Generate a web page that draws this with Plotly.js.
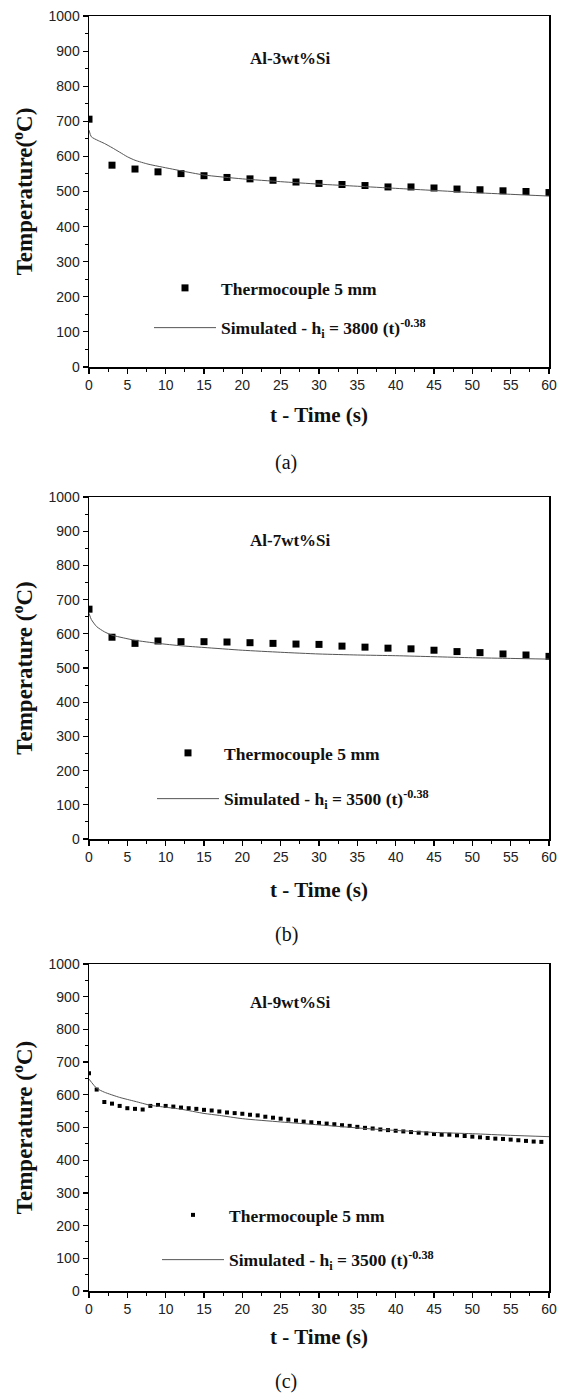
<!DOCTYPE html>
<html><head><meta charset="utf-8">
<script src="https://cdn.plot.ly/plotly-3.0.1.min.js"></script>
<style>html,body{margin:0;padding:0;background:#fff}</style>
</head><body><div id="chart" style="width:572px;height:1396px"></div>
<script>
// ---- Data ----
const timeExpAB = [0,3,6,9,12,15,18,21,24,27,30,33,36,39,42,45,48,51,54,57,60];
const tempExpA = [706,575,564,556,551,545,540,536,532,527,523,520,517,513,513,510,507,505,502,500,497];
const timeSimA = [0,0.3,1.2,2,3,4,5,6,7.7,9,12,15,20,25,30,35,40,45,50,55,60];
const tempSimA = [675,656,645,637,625,612,599,589,578,572,559,547,536,528,521,515,509,503,497,492,487];

const tempExpB = [672,590,572,579,577,577,576,574,572,570,569,564,561,558,556,552,548,545,541,538,534];
const timeSimB = [0,0.3,1,2,3,4.5,6,9,12,15,20,25,30,35,40,45,50,55,60];
const tempSimB = [660,642,621,606,596,588,581,572,565,560,552,546,541,538,536,533,530,528,526];

const timeExpC = [0,1,2,3,4,5,6,7,8,9,10,11,12,13,14,15,16,17,18,19,20,21,22,23,24,25,26,27,28,29,
                  30,31,32,33,34,35,36,37,38,39,40,41,42,43,44,45,46,47,48,49,50,51,52,53,54,55,56,57,58,59];
const tempExpC = [666,616,578,573,566,559,557,555,566,569,566,564,561,559,557,554,552,549,546,544,
                  542,539,537,533,530,527,524,521,518,516,514,512,510,507,505,502,499,497,494,492,
                  490,488,486,484,482,480,478,478,476,474,472,470,468,466,465,463,461,459,457,456];
const timeSimC = [0,1,2,4,6,8,10,12,15,17,20,25,30,36,40,45,50,55,60];
const tempSimC = [648,620,608,592,580,568,562,556,543,537,527,517,508,497,491,485,481,476,472];

const alloys = ['Al-3wt%Si','Al-7wt%Si','Al-9wt%Si'];
const panelLabels = ['(a)','(b)','(c)'];
const expName = 'Thermocouple 5 mm';
const simNames = ['Simulated - h<sub>i</sub> = 3800 (t)<sup>-0.38</sup>',
                  'Simulated - h<sub>i</sub> = 3500 (t)<sup>-0.38</sup>',
                  'Simulated - h<sub>i</sub> = 3500 (t)<sup>-0.38</sup>'];
const yTitles = ['Temperature(<sup>o</sup>C)','Temperature (<sup>o</sup>C)','Temperature (<sup>o</sup>C)'];
const xTitle = 't - Time (s)';

// ---- Layout helpers ----
const W = 572, H = 1396;
const fy = px => 1 - px / H;
const fx = px => px / W;
const serif = 'Liberation Serif, Times New Roman, serif';
const sans = 'Liberation Sans, Arial, sans-serif';

const panels = [
  {top:16, bottom:367, markerSize:7, legX:149, legTop:270, gap:14, titleY:58, labelY:462, xStand:15},
  {top:497, bottom:839, markerSize:7, legX:152, legTop:735, gap:20, titleY:540, labelY:934, xStand:18},
  {top:964, bottom:1291, markerSize:4, legX:157, legTop:1197, gap:19, titleY:1003, labelY:1381, xStand:13}
];
const expX = [timeExpAB, timeExpAB, timeExpC];
const expY = [tempExpA, tempExpB, tempExpC];
const simX = [timeSimA, timeSimB, timeSimC];
const simY = [tempSimA, tempSimB, tempSimC];

const traces = [];
const layout = {
  width: W, height: H,
  margin: {l:0, r:0, t:0, b:0},
  paper_bgcolor: '#fff', plot_bgcolor: '#fff',
  showlegend: true,
  annotations: []
};

panels.forEach((p, i) => {
  const sfx = i === 0 ? '' : String(i + 1);
  const legName = 'legend' + sfx;
  traces.push({
    x: expX[i], y: expY[i], type: 'scatter', mode: 'markers',
    name: expName, xaxis: 'x' + sfx, yaxis: 'y' + sfx, legend: legName,
    legendgroup: 'e' + i,
    marker: {symbol: 'square', size: p.markerSize, color: '#000'}
  });
  traces.push({
    x: simX[i], y: simY[i], type: 'scatter', mode: 'lines',
    name: simNames[i], xaxis: 'x' + sfx, yaxis: 'y' + sfx, legend: legName,
    legendgroup: 's' + i,
    line: {color: '#555', width: 1, shape: 'spline', smoothing: 0.6}
  });
  layout['xaxis' + sfx] = {
    domain: [fx(89), fx(549)], anchor: 'y' + sfx,
    range: [0, 60], tick0: 0, dtick: 5,
    ticks: 'outside', ticklen: 5, tickwidth: 1.2, tickcolor: '#000',
    minor: {ticks: 'outside', ticklen: 3, dtick: 2.5, tickcolor: '#000', tickwidth: 1},
    showline: true, mirror: true, linewidth: 1.5, linecolor: '#000',
    showgrid: false, zeroline: false, automargin: false,
    tickfont: {family: sans, size: 14, color: '#222'},
    title: {text: xTitle, font: {family: serif, size: 21, color: '#111', weight: 'bold'}, standoff: p.xStand}
  };
  layout['yaxis' + sfx] = {
    domain: [fy(p.bottom), fy(p.top)], anchor: 'x' + sfx,
    range: [0, 1000], tick0: 0, dtick: 100,
    ticks: 'outside', ticklen: 5, tickwidth: 1.2, tickcolor: '#000',
    minor: {ticks: 'outside', ticklen: 3, dtick: 50, tickcolor: '#000', tickwidth: 1},
    showline: true, mirror: true, linewidth: 1.5, linecolor: '#000',
    showgrid: false, zeroline: false, automargin: false,
    tickfont: {family: sans, size: 14, color: '#222'},
    title: {text: yTitles[i], font: {family: serif, size: 23, color: '#111', weight: 'bold'}, standoff: 9}
  };
  layout[legName] = {
    x: fx(p.legX), y: fy(p.legTop), xref: 'paper', yref: 'paper',
    xanchor: 'left', yanchor: 'top',
    bgcolor: 'rgba(0,0,0,0)', borderwidth: 0,
    itemwidth: 62, tracegroupgap: p.gap, traceorder: 'grouped',
    font: {family: serif, size: 17.5, color: '#111', weight: 'bold'}
  };
  layout.annotations.push({
    text: alloys[i], x: fx(290), y: fy(p.titleY), xref: 'paper', yref: 'paper',
    xanchor: 'center', yanchor: 'middle', showarrow: false,
    font: {family: serif, size: 17, color: '#111', weight: 'bold'}
  });
  layout.annotations.push({
    text: panelLabels[i], x: fx(286), y: fy(p.labelY), xref: 'paper', yref: 'paper',
    xanchor: 'center', yanchor: 'middle', showarrow: false,
    font: {family: serif, size: 20, color: '#111'}
  });
});

Plotly.newPlot('chart', traces, layout, {displayModeBar: false, staticPlot: true});
</script></body></html>
